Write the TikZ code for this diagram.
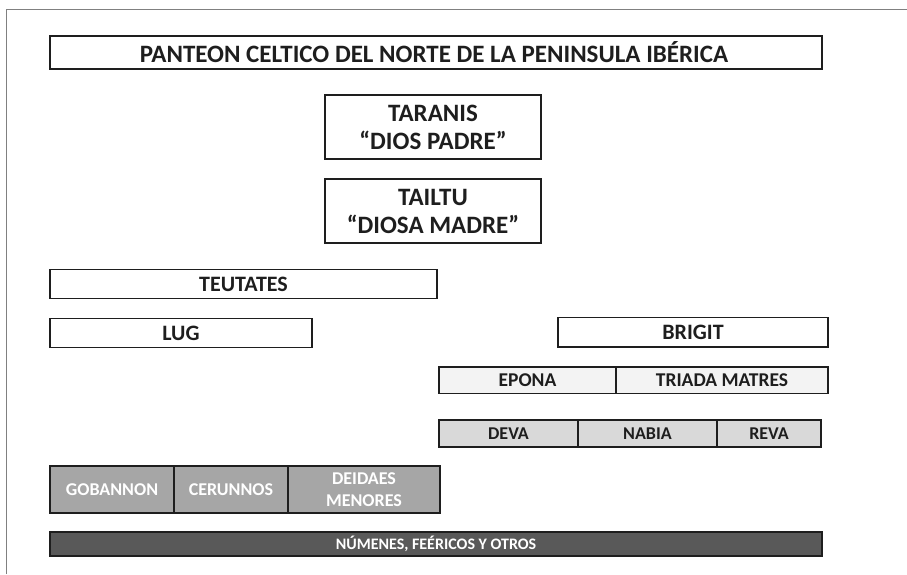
\documentclass[tikz,border=0pt]{standalone}
\usepackage{fontspec}
\setmainfont{Carlito}
\definecolor{borde}{HTML}{1E1E1E}
\definecolor{gris1}{HTML}{F3F3F3}
\definecolor{gris2}{HTML}{D9D9D9}
\definecolor{gris3}{HTML}{A6A6A6}
\definecolor{gris4}{HTML}{595959}
\begin{document}
\begin{tikzpicture}[x=1pt,y=-1pt,line width=1.8pt,
  caja/.style={draw=borde},
  rotulo/.style={font=\bfseries\fontsize{22}{25}\selectfont,align=center,text=borde,inner sep=0pt},
  rotulogrande/.style={rotulo,font=\bfseries\fontsize{25}{28}\selectfont},
  rotulomedio/.style={rotulo,font=\bfseries\fontsize{19.5}{22}\selectfont},
  rotulochico/.style={rotulo,font=\bfseries\fontsize{18}{22}\selectfont}]
\useasboundingbox (0,0) rectangle (907,574);
% marco
\draw[line width=1.3pt,black!50] (6.5,574) -- (6.5,9.5) -- (907,9.5);
% titulo
\draw[caja] (50,36) rectangle (822,69);
\node[rotulogrande] (titulo) at (434,52.5) {PANTEON CELTICO DEL NORTE DE LA PENINSULA IBÉRICA};
% dioses mayores
\draw[caja] (325,95) rectangle (541,159);
\node[rotulogrande] (taranis) at (433,127) {TARANIS\\“DIOS PADRE”};
\draw[caja] (325,179) rectangle (541,243);
\node[rotulogrande] (tailtu) at (433,211) {TAILTU\\“DIOSA MADRE”};
\draw[caja] (50,269.5) rectangle (437,298.5);
\node[rotulo] (teutates) at (243.5,284) {TEUTATES};
\draw[caja] (50,318.5) rectangle (312,347.5);
\node[rotulo] (lug) at (181,333) {LUG};
\draw[caja] (558,317.5) rectangle (828,347);
\node[rotulo] (brigit) at (693,332) {BRIGIT};
% diosas
\draw[caja,fill=gris1] (439,367) rectangle (616,393.5);
\draw[caja,fill=gris1] (616,367) rectangle (828,393.5);
\node[rotulomedio] (epona) at (527.5,380.5) {EPONA};
\node[rotulomedio] (matres) at (722,380.5) {TRIADA MATRES};
\draw[caja,fill=gris2] (439,420) rectangle (578,447);
\draw[caja,fill=gris2] (578,420) rectangle (717,447);
\draw[caja,fill=gris2] (717,420) rectangle (821,447);
\node[rotulochico] (deva) at (508.5,433.5) {DEVA};
\node[rotulochico] (nabia) at (647.5,433.5) {NABIA};
\node[rotulochico] (reva) at (769,433.5) {REVA};
% dioses menores
\draw[caja,fill=gris3] (50,466) rectangle (174,513);
\draw[caja,fill=gris3] (174,466) rectangle (288,513);
\draw[caja,fill=gris3] (288,466) rectangle (440,513);
\node[rotulochico,text=white] (gobannon) at (112,489.5) {GOBANNON};
\node[rotulochico,text=white] (cerunnos) at (231,489.5) {CERUNNOS};
\node[rotulochico,text=white] (deidades) at (364,489.5) {DEIDAES\\MENORES};
% numenes
\draw[caja,fill=gris4] (50,532) rectangle (822,556);
\node[rotulo,text=white,font=\bfseries\fontsize{16}{19}\selectfont] (numenes) at (436,544) {NÚMENES, FEÉRICOS Y OTROS};
\end{tikzpicture}
\end{document}
